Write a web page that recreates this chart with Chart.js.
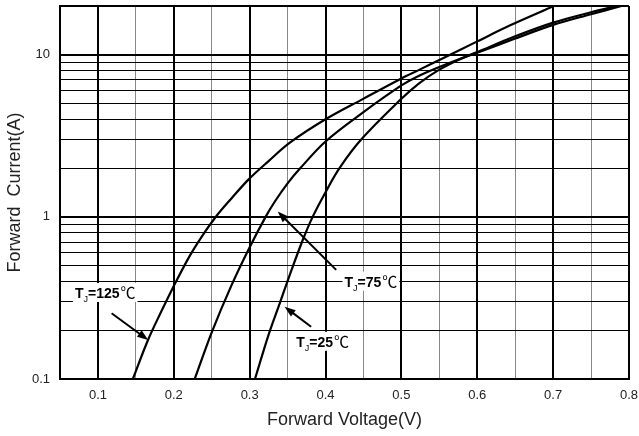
<!DOCTYPE html>
<html><head><meta charset="utf-8">
<script src="https://cdn.jsdelivr.net/npm/chart.js@4.4.0/dist/chart.umd.min.js"></script>
<style>html,body{margin:0;padding:0;background:#fff}#wrap{width:639px;height:436px}</style>
</head><body><div id="wrap"><canvas id="c" width="639" height="436"></canvas></div>
<script>
// Forward voltage (V) and forward current (A) per junction temperature
const v125 = [0.146, 0.166, 0.183, 0.2, 0.221, 0.238, 0.256, 0.276, 0.299, 0.325, 0.353, 0.4, 0.449, 0.5, 0.524, 0.55, 0.6, 0.642, 0.701];
const i125 = [0.1, 0.174, 0.258, 0.375, 0.575, 0.77, 1.01, 1.3, 1.71, 2.21, 2.87, 4.0, 5.33, 7.15, 8.1, 9.3, 12.1, 15.1, 20];
const v75 = [0.2276, 0.25, 0.276, 0.3, 0.321, 0.333, 0.35, 0.366, 0.4, 0.45, 0.5, 0.52, 0.55, 0.575, 0.6, 0.65, 0.7, 0.75, 0.79];
const i75 = [0.1, 0.194, 0.378, 0.65, 1.0, 1.24, 1.61, 1.98, 2.92, 4.43, 6.47, 7.3, 8.4, 9.35, 10.3, 12.6, 15.3, 17.8, 20];
const v25 = [0.307, 0.325, 0.34, 0.355, 0.37, 0.383, 0.4, 0.4184, 0.447, 0.5, 0.5237, 0.55, 0.575, 0.6, 0.65, 0.7, 0.75, 0.784];
const i25 = [0.1, 0.188, 0.296, 0.468, 0.72, 1.0, 1.42, 2.0, 3.0, 5.35, 6.69, 8.1, 9.3, 10.4, 13.0, 15.8, 18.3, 20];

const xTickValues = [0.05,0.1,0.15,0.2,0.25,0.3,0.35,0.4,0.45,0.5,0.55,0.6,0.65,0.7,0.75,0.8];
const xTickLabels = ['','0.1','','0.2','','0.3','','0.4','','0.5','','0.6','','0.7','','0.8'];
const yTickValues = [0.1,0.2,0.3,0.4,0.5,0.6,0.7,0.8,0.9,1,2,3,4,5,6,7,8,9,10,20];
const yMajor = [0.1,1,10,20];
const yTickLabels = {0.1:'0.1',1:'1',10:'10'};

// annotation labels: text, label anchor (V,A), arrow start (V,A), arrow tip (V,A)
const labelTemps = ['=125', '=75', '=25'];
const labelAnchor = [[0.0697,0.316],[0.425,0.371],[0.3614,0.158]];
const arrowFrom = [[0.118,0.2546],[0.414,0.471],[0.381,0.210]];
const arrowTo = [[0.1662,0.174],[0.337,1.078],[0.346,0.279]];

const pts = (vs, is) => vs.map((v,k)=>({x:v, y:is[k]}));
const FONT = '"Liberation Sans", Arial, sans-serif';

const annotPlugin = {
  id:'annot',
  afterDatasetsDraw(chart){
    const {ctx, scales:{x,y}} = chart;
    ctx.save();
    for (let k=0;k<labelTemps.length;k++){
      const x0=x.getPixelForValue(arrowFrom[k][0]), y0=y.getPixelForValue(arrowFrom[k][1]);
      const x1=x.getPixelForValue(arrowTo[k][0]), y1=y.getPixelForValue(arrowTo[k][1]);
      const a=Math.atan2(y1-y0,x1-x0), head=11, hw=4;
      ctx.strokeStyle='#000'; ctx.fillStyle='#000'; ctx.lineWidth=2;
      ctx.beginPath(); ctx.moveTo(x0,y0); ctx.lineTo(x1-Math.cos(a)*head*0.7, y1-Math.sin(a)*head*0.7); ctx.stroke();
      ctx.beginPath(); ctx.moveTo(x1,y1);
      ctx.lineTo(x1-head*Math.cos(a)+hw*Math.sin(a), y1-head*Math.sin(a)-hw*Math.cos(a));
      ctx.lineTo(x1-head*Math.cos(a)-hw*Math.sin(a), y1-head*Math.sin(a)+hw*Math.cos(a));
      ctx.closePath(); ctx.fill();

      const tx=x.getPixelForValue(labelAnchor[k][0]), ty=y.getPixelForValue(labelAnchor[k][1]);
      const bold='bold 14px '+FONT, sub='9px '+FONT, deg='15px "Noto Sans CJK SC", "DejaVu Sans", sans-serif';
      ctx.font=bold; const wT=ctx.measureText('T').width;
      ctx.font=sub; const wJ=ctx.measureText('J').width;
      ctx.font=bold; const wN=ctx.measureText(labelTemps[k]).width;
      ctx.font=deg; const wC=ctx.measureText('\u2103').width;
      const w=wT+wJ+wN+wC;
      ctx.fillStyle='#fff'; ctx.fillRect(tx-2, ty-15, w+5, 19);
      ctx.fillStyle='#000'; ctx.textAlign='left'; ctx.textBaseline='alphabetic';
      ctx.font=bold; ctx.fillText('T', tx, ty);
      ctx.font=sub; ctx.fillText('J', tx+wT, ty+4);
      ctx.font=bold; ctx.fillText(labelTemps[k], tx+wT+wJ, ty);
      ctx.font=deg; ctx.fillText('\u2103', tx+wT+wJ+wN+1, ty);
    }
    ctx.restore();
  }
};

const ds = (d) => ({data:d, showLine:true, borderColor:'#000', borderWidth:2.2, pointRadius:0, fill:false, tension:0.35});

new Chart(document.getElementById('c'), {
  type:'scatter',
  data:{datasets:[ds(pts(v125,i125)), ds(pts(v75,i75)), ds(pts(v25,i25))]},
  options:{
    responsive:false, animation:false, devicePixelRatio:1,
    layout:{padding:{top:6,right:10,left:0,bottom:0}},
    plugins:{legend:{display:false}, tooltip:{enabled:false}},
    scales:{
      x:{type:'linear', min:0.05, max:0.8,
        afterBuildTicks:(s)=>{s.ticks=xTickValues.map(v=>({value:v}));},
        afterFit:(s)=>{s.height=57; s.paddingLeft=0; s.paddingRight=0;},
        ticks:{autoSkip:false, maxRotation:0, padding:9, color:'#222', font:{family:FONT,size:13},
          callback:(v,idx)=>xTickLabels[idx]},
        grid:{drawTicks:false,
          color:(c)=>{const v=c.tick.value; return Math.abs(v*10-Math.round(v*10))<1e-6||Math.abs(v-0.05)<1e-6?'#000':'#888';},
          lineWidth:(c)=>{const v=c.tick.value; return Math.abs(v*10-Math.round(v*10))<1e-6||Math.abs(v-0.05)<1e-6?2:1;}},
        border:{display:true,color:'#000',width:2},
        title:{display:true,text:'Forward Voltage(V)',color:'#222',font:{family:FONT,size:18},padding:{top:0,bottom:5}}
      },
      y:{type:'logarithmic', min:0.1, max:20,
        afterBuildTicks:(s)=>{s.ticks=yTickValues.map(v=>({value:v}));},
        afterFit:(s)=>{s.width=60; s.paddingTop=0; s.paddingBottom=0;},
        ticks:{autoSkip:false, padding:10, color:'#222', font:{family:FONT,size:13},
          callback:(v)=>yTickLabels[v]||''},
        grid:{drawTicks:false,
          color:'#000',
          lineWidth:(c)=>yMajor.includes(c.tick.value)?2:1},
        border:{display:true,color:'#000',width:2},
        title:{display:true,text:'Forward  Current(A)',color:'#222',font:{family:FONT,size:18},padding:{top:4,bottom:0}}
      }
    }
  },
  plugins:[annotPlugin]
});
</script>
</body></html>
